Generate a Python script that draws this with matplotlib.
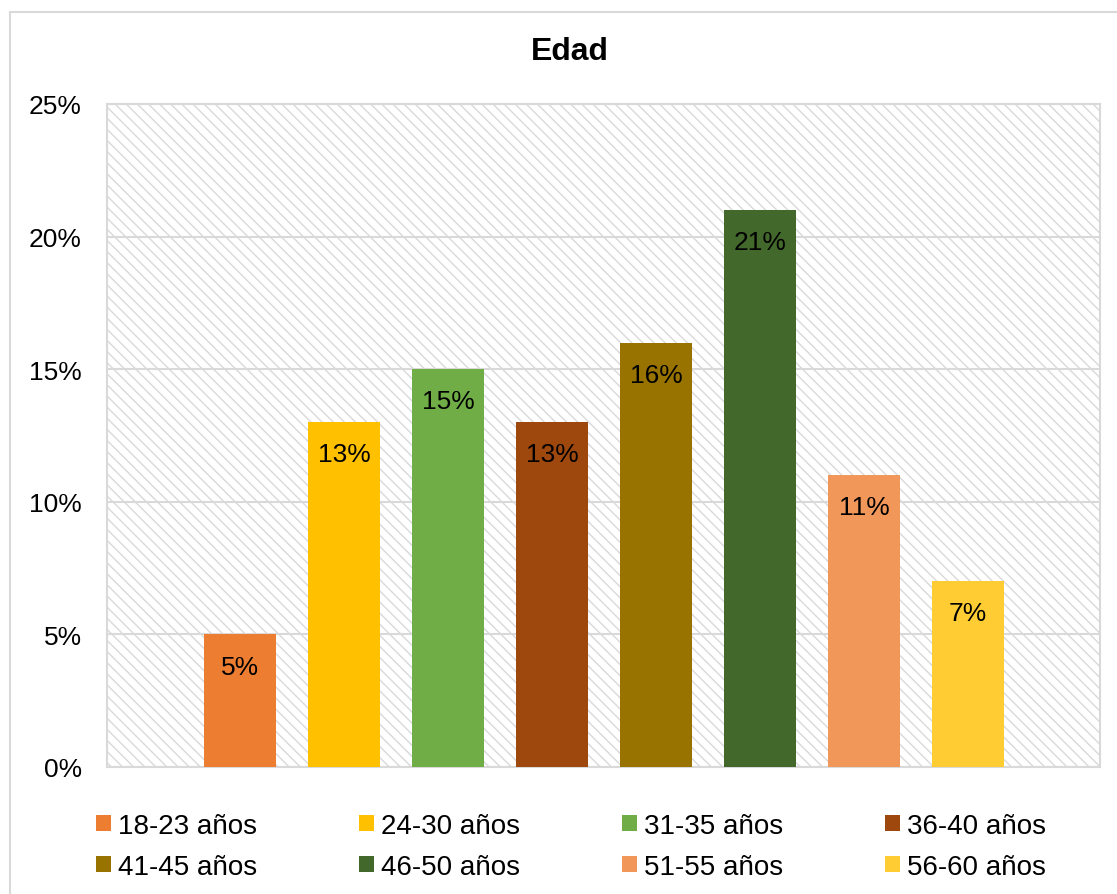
import matplotlib
matplotlib.use('Agg')
from matplotlib import pyplot as plt
from matplotlib.patches import Patch, Rectangle

# data
grupos = ['18-23 años', '24-30 años', '31-35 años', '36-40 años',
          '41-45 años', '46-50 años', '51-55 años', '56-60 años']
porcentajes = [5, 13, 15, 13, 16, 21, 11, 7]
colores = ['#ED7D31', '#FFC000', '#70AD47', '#9E480E',
           '#997300', '#43682B', '#F1975A', '#FFCD33']
ticks_y = [0, 5, 10, 15, 20, 25]

plt.rcParams['font.family'] = ['Liberation Sans', 'DejaVu Sans']
plt.rcParams['hatch.color'] = '#d9d9d9'
plt.rcParams['hatch.linewidth'] = 1.0

W, H = 1117, 895
fig = plt.figure(figsize=(W / 100, H / 100), dpi=100)
fig.patches.append(Rectangle((10 / W, -0.1), 1.2, 1 - 13 / H + 0.1, transform=fig.transFigure,
                             fill=False, edgecolor='#d9d9d9', linewidth=1.5))

ax = fig.add_axes([107 / W, 1 - 768 / H, (1100 - 107) / W, (768 - 105) / H])
ax.set_facecolor('white')
ax.add_patch(Rectangle((0, 0), 1, 1, transform=ax.transAxes, facecolor='white',
                       edgecolor='#d9d9d9', hatch='\\\\\\', linewidth=0, zorder=0))

x = list(range(len(grupos)))
bars = ax.bar(x, porcentajes, width=0.69, color=colores, zorder=3)

for xi, v in zip(x, porcentajes):
    ax.annotate(f'{v}%', (xi, v), xytext=(0, -14.5), textcoords='offset points',
                ha='center', va='top', fontsize=19, color='black', zorder=4)

ax.set_xlim(-1.279, 8.269)
ax.set_ylim(0, 25)
ax.set_yticks(ticks_y)
ax.set_yticklabels([f'{t}%' for t in ticks_y], fontsize=19)
ax.set_xticks([])
ax.tick_params(axis='y', length=0, pad=18)
ax.grid(axis='y', color='#d9d9d9', linewidth=1.5, zorder=1)
ax.set_axisbelow(True)
for s in ax.spines.values():
    s.set_color('#d9d9d9')
    s.set_linewidth(1.5)

fig.text(570 / W, 1 - 52 / H, 'Edad', ha='center', va='center', fontsize=23, fontweight='bold')

handles = [Patch(facecolor=c, label=g) for g, c in zip(grupos, colores)]
orden = [0, 4, 1, 5, 2, 6, 3, 7]
fig.legend([handles[i] for i in orden], [grupos[i] for i in orden], ncol=4,
           loc='upper left', bbox_to_anchor=(96 / W, 1 - 814 / H), frameon=False,
           fontsize=20, handlelength=0.54, handleheight=0.54, handletextpad=0.25,
           columnspacing=3.67, labelspacing=0.54, borderpad=0, borderaxespad=0)

fig.savefig('out.png', dpi=100)
